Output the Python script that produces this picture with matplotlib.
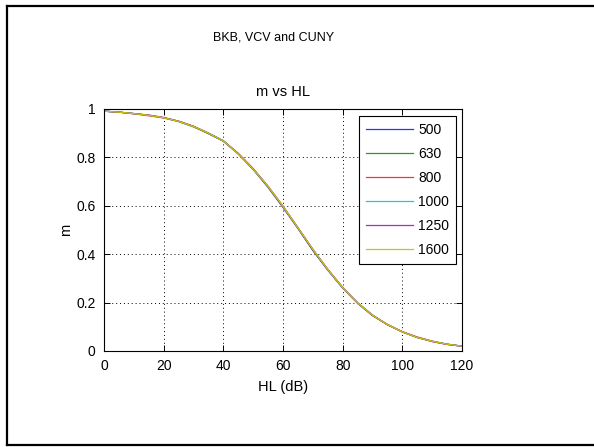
import matplotlib
matplotlib.use("Agg")
import matplotlib.pyplot as plt
from matplotlib.lines import Line2D

plt.rcParams["font.family"] = ["Liberation Sans", "DejaVu Sans"]

# hearing loss (dB) and m, one list per frequency
HL = [0, 5, 10, 15, 20, 25, 30, 35, 40, 45, 50, 55, 60,
      65, 70, 75, 80, 85, 90, 95, 100, 105, 110, 115, 120]

M_500 = [0.991, 0.987, 0.981, 0.974, 0.964, 0.949, 0.928, 0.899, 0.867, 0.814, 0.750, 0.676, 0.593,
         0.506, 0.415, 0.334, 0.260, 0.198, 0.147, 0.110, 0.079, 0.056, 0.040, 0.028, 0.020]
M_630 = [0.991, 0.987, 0.981, 0.974, 0.964, 0.948, 0.926, 0.898, 0.868, 0.815, 0.751, 0.678, 0.596,
         0.508, 0.418, 0.336, 0.261, 0.197, 0.146, 0.109, 0.079, 0.056, 0.040, 0.028, 0.020]
M_800 = [0.991, 0.987, 0.980, 0.972, 0.963, 0.949, 0.928, 0.900, 0.868, 0.817, 0.753, 0.679, 0.597,
         0.509, 0.420, 0.338, 0.263, 0.199, 0.148, 0.109, 0.080, 0.058, 0.041, 0.028, 0.020]
M_1000 = [0.991, 0.987, 0.981, 0.974, 0.964, 0.949, 0.928, 0.901, 0.870, 0.816, 0.752, 0.681, 0.598,
          0.510, 0.421, 0.336, 0.262, 0.200, 0.149, 0.109, 0.079, 0.056, 0.040, 0.028, 0.020]
M_1250 = [0.991, 0.987, 0.981, 0.975, 0.965, 0.950, 0.929, 0.900, 0.868, 0.816, 0.754, 0.680, 0.598,
          0.509, 0.419, 0.337, 0.262, 0.199, 0.148, 0.108, 0.079, 0.056, 0.039, 0.027, 0.020]
M_1600 = [0.991, 0.987, 0.981, 0.974, 0.964, 0.949, 0.928, 0.900, 0.868, 0.815, 0.752, 0.680, 0.598,
          0.509, 0.420, 0.337, 0.262, 0.199, 0.148, 0.109, 0.079, 0.056, 0.040, 0.028, 0.020]

SERIES = [("500", M_500), ("630", M_630), ("800", M_800),
          ("1000", M_1000), ("1250", M_1250), ("1600", M_1600)]
COLORS = ["#3030ff", "#20a020", "#ff3030", "#20c8c8", "#c020c0", "#c8c800"]

X_TICKS = [0, 20, 40, 60, 80, 100, 120]
Y_TICKS = [0, 0.2, 0.4, 0.6, 0.8, 1]
Y_LABELS = ["0", "0.2", "0.4", "0.6", "0.8", "1"]

fig = plt.figure(figsize=(5.94, 4.47), dpi=100)
ax = fig.add_axes([104 / 594, 1 - 351 / 447, 358 / 594, 242 / 447])

for (name, m), color in zip(SERIES, COLORS):
    ax.plot(HL, m, color=color, linewidth=0.9, label=name)

ax.set_xlim(0, 120)
ax.set_ylim(0, 1)
ax.set_xticks(X_TICKS)
ax.set_yticks(Y_TICKS)
ax.set_yticklabels(Y_LABELS)
ax.tick_params(direction="in", length=4, width=0.7, top=True, right=True,
               labelsize=10, pad=6)
ax.grid(True, color="black", linestyle=(0, (1, 3)), linewidth=0.7)
for sp in ax.spines.values():
    sp.set_linewidth(0.8)

ax.set_xlabel("HL (dB)", fontsize=10.5, labelpad=5)
ax.set_ylabel("m", fontsize=10.5, labelpad=2)
ax.set_title("m vs HL", fontsize=10.5, pad=9)
fig.text(274 / 594, 1 - 38 / 447, "BKB, VCV and CUNY", fontsize=9,
         ha="center", va="center")

leg = ax.legend(loc="upper right", bbox_to_anchor=(0.983, 0.971), borderaxespad=0,
                fontsize=10, labelspacing=0.72, handlelength=3.4, handletextpad=0.35,
                borderpad=0.5, fancybox=False, framealpha=1, edgecolor="black")
leg.get_frame().set_linewidth(0.8)

# figure frame (left, top, bottom edges)
lw = 1.6
fig.add_artist(Line2D([7 / 594, 7 / 594], [1 - 6 / 447, 1 - 445 / 447], color="black", linewidth=lw))
fig.add_artist(Line2D([7 / 594, 593 / 594], [1 - 6 / 447, 1 - 6 / 447], color="black", linewidth=lw))
fig.add_artist(Line2D([7 / 594, 593 / 594], [1 - 445 / 447, 1 - 445 / 447], color="black", linewidth=lw))

fig.savefig("out.png", dpi=100)
